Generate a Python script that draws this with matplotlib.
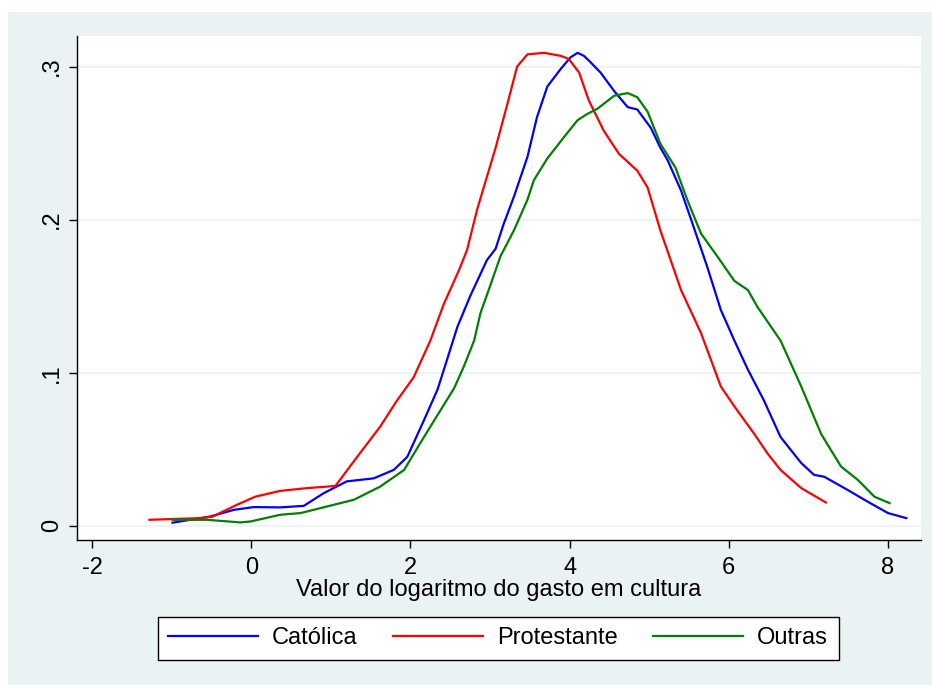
import matplotlib.pyplot as plt
from matplotlib.patches import Rectangle

plt.rcParams['font.family'] = ['Liberation Sans', 'DejaVu Sans']
plt.rcParams['axes.unicode_minus'] = False

# densidade estimada por grupo religioso
cat_x = [-0.99, -0.52, -0.22, 0.03, 0.365, 0.66, 0.91, 1.20, 1.54, 1.79, 1.96, 2.17, 2.34,
         2.42, 2.59, 2.75, 2.96, 3.07, 3.17, 3.30, 3.47, 3.59, 3.72, 3.89, 4.01, 4.10, 4.18,
         4.26, 4.39, 4.56, 4.73, 4.85, 5.02, 5.14, 5.23, 5.40, 5.56, 5.73, 5.90, 6.07, 6.24,
         6.44, 6.65, 6.91, 7.07, 7.20, 7.49, 7.74, 8.00, 8.23]
cat_y = [0.002, 0.006, 0.0104, 0.0122, 0.012, 0.013, 0.0213, 0.029, 0.031, 0.0365, 0.045,
         0.069, 0.089, 0.102, 0.13, 0.15, 0.1735, 0.181, 0.197, 0.215, 0.241, 0.267, 0.287,
         0.2986, 0.306, 0.309, 0.307, 0.303, 0.296, 0.284, 0.2735, 0.272, 0.260, 0.247,
         0.239, 0.219, 0.195, 0.169, 0.141, 0.121, 0.102, 0.082, 0.058, 0.041, 0.0333,
         0.032, 0.0235, 0.0159, 0.0083, 0.005]

prot_x = [-1.28, -0.64, -0.49, -0.18, 0.05, 0.365, 0.70, 1.057, 1.33, 1.62, 1.82, 2.04,
          2.25, 2.42, 2.61, 2.71, 2.84, 3.07, 3.22, 3.34, 3.47, 3.68, 3.89, 3.99, 4.12, 4.24,
          4.43, 4.62, 4.85, 4.98, 5.14, 5.40, 5.65, 5.90, 6.07, 6.32, 6.49, 6.65, 6.91, 7.22]
prot_y = [0.0039, 0.005, 0.0059, 0.0137, 0.019, 0.0228, 0.0246, 0.026, 0.045, 0.0648,
          0.081, 0.097, 0.121, 0.145, 0.167, 0.18, 0.207, 0.247, 0.276, 0.30, 0.308, 0.309,
          0.307, 0.305, 0.296, 0.278, 0.258, 0.243, 0.232, 0.221, 0.193, 0.154, 0.126,
          0.091, 0.078, 0.060, 0.047, 0.0365, 0.0246, 0.0152]

out_x = [-0.99, -0.56, -0.14, -0.01, 0.365, 0.62, 1.035, 1.29, 1.62, 1.92, 2.17, 2.38,
         2.55, 2.67, 2.80, 2.88, 3.01, 3.13, 3.30, 3.47, 3.55, 3.72, 3.93, 4.10, 4.22, 4.35,
         4.56, 4.73, 4.85, 4.98, 5.14, 5.33, 5.48, 5.65, 5.86, 6.07, 6.24, 6.36, 6.65, 6.91,
         7.16, 7.41, 7.62, 7.83, 8.02]
out_y = [0.0039, 0.0039, 0.0022, 0.0028, 0.0072, 0.0083, 0.0137, 0.017, 0.0256, 0.0365,
         0.058, 0.0757, 0.09, 0.104, 0.121, 0.139, 0.158, 0.176, 0.193, 0.213, 0.2257,
         0.240, 0.254, 0.265, 0.269, 0.2725, 0.281, 0.2827, 0.280, 0.2705, 0.2496, 0.234,
         0.2127, 0.191, 0.1757, 0.160, 0.154, 0.143, 0.121, 0.091, 0.060, 0.0387, 0.030,
         0.019, 0.0148]

bg = '#eaf2f3'
fig = plt.figure(figsize=(9.32, 6.85), dpi=100)
fig.patches.append(Rectangle((8 / 932, 0), 1 - 8 / 932, 1 - 12 / 685,
                             transform=fig.transFigure, facecolor=bg,
                             edgecolor='none', zorder=-10))

ax = fig.add_axes([77 / 932, 1 - 540 / 685, (921 - 77) / 932, (540 - 36) / 685])
ax.set_facecolor('white')

ax.plot(cat_x, cat_y, color='#0000ff', lw=1.6, label='Católica')
ax.plot(prot_x, prot_y, color='#ff0000', lw=1.6, label='Protestante')
ax.plot(out_x, out_y, color='#008000', lw=1.6, label='Outras')

ax.set_xlim(-2.19, 8.415)
ax.set_ylim(-0.0093, 0.32)
ax.set_xticks([-2, 0, 2, 4, 6, 8])
ax.set_yticks([0, 0.1, 0.2, 0.3])
ax.set_yticklabels(['0', '.1', '.2', '.3'], rotation=90, va='center')
ax.tick_params(direction='out', length=6, width=1, labelsize=17, pad=4)
ax.tick_params(axis='x', pad=6)
ax.grid(axis='y', color=bg, lw=1.2)
ax.set_axisbelow(True)
for s in ['top', 'right']:
    ax.spines[s].set_visible(False)
ax.spines['left'].set_linewidth(1)
ax.spines['bottom'].set_linewidth(1)

ax.set_xlabel('Valor do logaritmo do gasto em cultura', fontsize=17, labelpad=0)

fig.legend(loc='center', bbox_to_anchor=(498 / 932, 1 - 638.5 / 685), ncol=3,
           fontsize=17, frameon=True, fancybox=False, edgecolor='black',
           facecolor='white', framealpha=1, handlelength=3.8, handletextpad=0.6,
           columnspacing=1.5, borderpad=0.45)

fig.savefig('out.png', dpi=100, facecolor='white')
